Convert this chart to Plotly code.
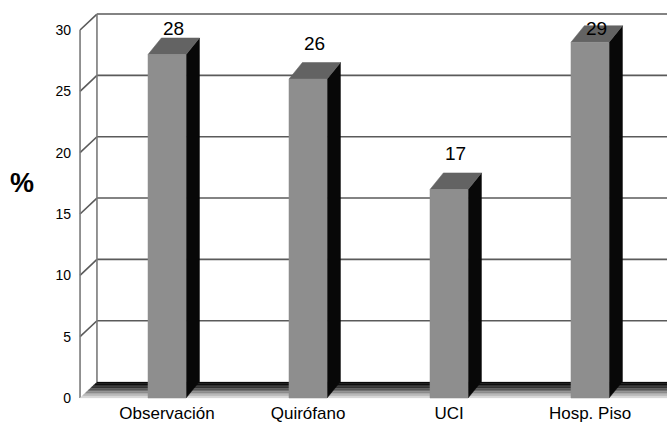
import plotly.graph_objects as go

# Data
categories = ["Observación", "Quirófano", "UCI", "Hosp. Piso"]
values = [28, 26, 17, 29]
y_ticks = [0, 5, 10, 15, 20, 25, 30]

# Axis ranges and pseudo-3D geometry (data units)
X_MIN, X_MAX = -0.674, 3.546
Y_MIN, Y_MAX = -0.245, 32.446
WALL_X = -0.617          # front-left edge of the box
BOX_DX, BOX_DY = 0.12, 1.3
BAR_HALF = 0.135
BAR_DX, BAR_DY = 0.095, 1.35

FONT = "Liberation Sans, Arial, Helvetica, sans-serif"
GRID = "#5a5a5a"

fig = go.Figure()


def polygon(xs, ys, fill, line_color=None, line_width=0):
    fig.add_trace(go.Scatter(
        x=list(xs) + [xs[0]], y=list(ys) + [ys[0]],
        mode="lines", fill="toself", fillcolor=fill,
        line=dict(color=line_color or fill, width=line_width),
        hoverinfo="skip", showlegend=False))


def segment(x0, y0, x1, y1, color=GRID, width=1.6):
    fig.add_trace(go.Scatter(
        x=[x0, x1], y=[y0, y1], mode="lines",
        line=dict(color=color, width=width),
        hoverinfo="skip", showlegend=False))


# Back wall gridlines and left wall
back_x = WALL_X + BOX_DX
for t in y_ticks:
    if t > 0:
        segment(back_x, t + BOX_DY, X_MAX + 0.2, t + BOX_DY)
        segment(WALL_X, t, back_x, t + BOX_DY)
segment(WALL_X, 0, WALL_X, y_ticks[-1], color="#7a7a7a")
segment(back_x, BOX_DY, back_x, y_ticks[-1] + BOX_DY, color="#7a7a7a")

# Floor: shaded strips from the back edge to the front edge
floor_shades = ["#0a0a0a", "#0e0e0e", "#1a1a1a", "#333333", "#555555",
                "#707070", "#8a8a8a", "#a2a2a2", "#bdbdbd", "#d8d8d8"]
n = len(floor_shades)
for k, shade in enumerate(floor_shades):
    f0 = k / n
    f1 = (k + 1) / n
    xa, ya = WALL_X + BOX_DX * (1 - f0), BOX_DY * (1 - f0)
    xb, yb = WALL_X + BOX_DX * (1 - f1), BOX_DY * (1 - f1)
    polygon([xa, X_MAX + 0.2, X_MAX + 0.2, xb], [ya, ya, yb, yb], shade,
            line_width=0.3)

# Bars
for i, v in enumerate(values):
    xl, xr = i - BAR_HALF, i + BAR_HALF
    # side face
    polygon([xr, xr + BAR_DX, xr + BAR_DX, xr],
            [0, BAR_DY, v + BAR_DY, v], "#080808", line_width=0.5)
    # top face
    polygon([xl, xl + BAR_DX, xr + BAR_DX, xr],
            [v, v + BAR_DY, v + BAR_DY, v], "#636363", line_width=0.5)
    # front face
    polygon([xl, xr, xr, xl], [0, 0, v, v], "#8e8e8e", line_width=0.5)

# Value labels
for i, v in enumerate(values):
    fig.add_annotation(
        x=i + BAR_DX / 2, y=min(v + 2.9, 30.1), text=str(v),
        showarrow=False, xanchor="center", yanchor="middle",
        font=dict(family=FONT, size=19, color="#000000"))

# Axis title
fig.add_annotation(
    x=-0.084, xref="paper", y=17.5, yref="y", text="<b>%</b>",
    showarrow=False, xanchor="center", yanchor="middle",
    font=dict(family=FONT, size=27, color="#000000"))

fig.update_layout(
    width=667, height=428,
    margin=dict(l=72, r=0, t=0, b=27),
    paper_bgcolor="white", plot_bgcolor="white",
    showlegend=False,
    xaxis=dict(range=[X_MIN, X_MAX], showgrid=False, zeroline=False,
               showline=False, ticks="",
               tickmode="array", tickvals=list(range(len(categories))),
               ticktext=categories,
               tickfont=dict(family=FONT, size=17, color="#000000")),
    yaxis=dict(range=[Y_MIN, Y_MAX], showgrid=False, zeroline=False,
               showline=False, ticks="",
               tickmode="array", tickvals=y_ticks,
               ticktext=[str(t) for t in y_ticks],
               tickfont=dict(family=FONT, size=14, color="#000000")),
)

fig.write_html("out.html")
